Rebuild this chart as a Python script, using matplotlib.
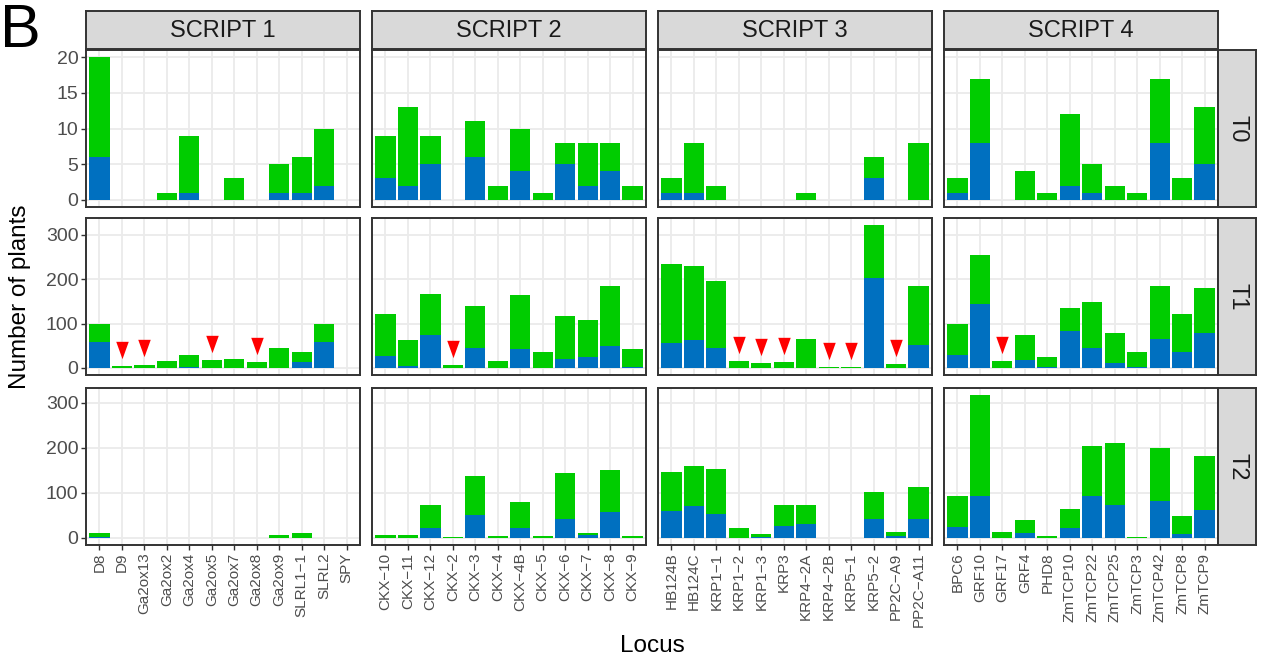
import numpy as np
import matplotlib
matplotlib.use("Agg")
import matplotlib.pyplot as plt

plt.rcParams["font.family"] = ["Liberation Sans", "DejaVu Sans"]

# ---- data ----
scripts = ["SCRIPT 1", "SCRIPT 2", "SCRIPT 3", "SCRIPT 4"]
times = ["T0", "T1", "T2"]

s1_loci = ["D8", "D9", "Ga2ox13", "Ga2ox2", "Ga2ox4", "Ga2ox5", "Ga2ox7",
           "Ga2ox8", "Ga2ox9", "SLRL1−1", "SLRL2", "SPY"]
s2_loci = ["CKX−10", "CKX−11", "CKX−12", "CKX−2", "CKX−3", "CKX−4", "CKX−4B",
           "CKX−5", "CKX−6", "CKX−7", "CKX−8", "CKX−9"]
s3_loci = ["HB124B", "HB124C", "KRP1−1", "KRP1−2", "KRP1−3", "KRP3", "KRP4−2A",
           "KRP4−2B", "KRP5−1", "KRP5−2", "PP2C−A9", "PP2C−A11"]
s4_loci = ["BPC6", "GRF10", "GRF17", "GRF4", "PHD8", "ZmTCP10", "ZmTCP22",
           "ZmTCP25", "ZmTCP3", "ZmTCP42", "ZmTCP8", "ZmTCP9"]

# total plants (green) and the blue subset
s1_t0_total = [20, 0, 0, 1, 9, 0, 3, 0, 5, 6, 10, 0]
s1_t0_blue = [6, 0, 0, 0, 1, 0, 0, 0, 1, 1, 2, 0]
s1_t1_total = [100, 4, 7, 15, 28, 17, 19, 13, 44, 35, 98, 0]
s1_t1_blue = [58, 0, 0, 0, 2, 0, 0, 0, 0, 13, 58, 0]
s1_t2_total = [10, 0, 0, 0, 0, 0, 0, 0, 6, 10, 0, 0]
s1_t2_blue = [2, 0, 0, 0, 0, 0, 0, 0, 0, 0, 0, 0]

s2_t0_total = [9, 13, 9, 0, 11, 2, 10, 1, 8, 8, 8, 2]
s2_t0_blue = [3, 2, 5, 0, 6, 0, 4, 0, 5, 2, 4, 0]
s2_t1_total = [122, 62, 167, 6, 140, 15, 165, 35, 118, 107, 185, 42]
s2_t1_blue = [26, 4, 75, 0, 44, 0, 42, 0, 19, 24, 49, 2]
s2_t2_total = [6, 6, 72, 2, 138, 4, 79, 4, 143, 10, 151, 4]
s2_t2_blue = [0, 0, 21, 0, 50, 0, 21, 0, 43, 6, 57, 0]

s3_t0_total = [3, 8, 2, 0, 0, 0, 1, 0, 0, 6, 0, 8]
s3_t0_blue = [1, 1, 0, 0, 0, 0, 0, 0, 0, 3, 0, 0]
s3_t1_total = [235, 230, 196, 15, 10, 13, 64, 2, 2, 322, 8, 185]
s3_t1_blue = [55, 62, 44, 0, 0, 0, 0, 0, 0, 203, 0, 51]
s3_t2_total = [147, 160, 154, 21, 8, 74, 72, 0, 0, 101, 12, 112]
s3_t2_blue = [59, 70, 52, 0, 2, 26, 30, 0, 0, 41, 4, 41]

s4_t0_total = [3, 17, 0, 4, 1, 12, 5, 2, 1, 17, 3, 13]
s4_t0_blue = [1, 8, 0, 0, 0, 2, 1, 0, 0, 8, 0, 5]
s4_t1_total = [98, 255, 15, 75, 24, 134, 149, 78, 35, 185, 122, 181]
s4_t1_blue = [28, 145, 0, 17, 2, 84, 44, 10, 2, 64, 35, 78]
s4_t2_total = [94, 317, 12, 39, 4, 63, 204, 211, 1, 200, 48, 182]
s4_t2_blue = [24, 92, 0, 10, 0, 21, 92, 74, 0, 81, 8, 61]

# loci flagged with a red arrow in T1
flagged_t1 = ["D9", "Ga2ox13", "Ga2ox5", "Ga2ox8", "CKX−2", "KRP1−2", "KRP1−3",
              "KRP3", "KRP4−2B", "KRP5−1", "PP2C−A9", "GRF17"]

loci = [s1_loci, s2_loci, s3_loci, s4_loci]
totals = [[s1_t0_total, s1_t1_total, s1_t2_total],
          [s2_t0_total, s2_t1_total, s2_t2_total],
          [s3_t0_total, s3_t1_total, s3_t2_total],
          [s4_t0_total, s4_t1_total, s4_t2_total]]
blues = [[s1_t0_blue, s1_t1_blue, s1_t2_blue],
         [s2_t0_blue, s2_t1_blue, s2_t2_blue],
         [s3_t0_blue, s3_t1_blue, s3_t2_blue],
         [s4_t0_blue, s4_t1_blue, s4_t2_blue]]

GREEN = "#00CC00"
BLUE = "#0070C0"
BORDER = "#333333"
GRID = "#EBEBEB"
STRIP = "#D9D9D9"

W, H = 1261, 659
fig = plt.figure(figsize=(W / 100, H / 100), dpi=100)


def px_axes(left, top, width, height, **kw):
    return fig.add_axes([left / W, 1 - (top + height) / H, width / W, height / H], **kw)


def strip_axes(left, top, width, height):
    sa = px_axes(left, top, width, height)
    sa.set_facecolor(STRIP)
    sa.set_xticks([])
    sa.set_yticks([])
    for sp in sa.spines.values():
        sp.set_color(BORDER)
        sp.set_linewidth(1.4)
    return sa


col_left = [86, 372, 658, 944]
col_w = 274
row_top = [50, 218, 388]
row_h = 157

# triangle pointing down, narrower than tall
tri = [(-0.72, 1), (0.72, 1), (0, -1), (-0.72, 1)]

for r, t in enumerate(times):
    row_max = max(max(totals[c][r]) for c in range(4))
    ylim = (-0.05 * row_max, 1.05 * row_max)
    for c in range(4):
        ax = px_axes(col_left[c], row_top[r], col_w, row_h)
        x = np.arange(len(loci[c]))
        tot = np.array(totals[c][r])
        blu = np.array(blues[c][r])
        ax.bar(x, tot, width=0.9, color=GREEN, zorder=2)
        ax.bar(x, blu, width=0.9, color=BLUE, zorder=3)

        if t == "T1":
            for i, name in enumerate(loci[c]):
                if name in flagged_t1:
                    ax.plot(i, tot[i] + 0.115 * row_max, marker=tri, ms=12.5,
                            color="#FF0000", mec="none", zorder=4)

        ax.set_xlim(-0.6, len(x) - 0.4)
        ax.set_ylim(*ylim)
        ax.set_xticks(x)
        if t == "T0":
            ax.set_yticks([0, 5, 10, 15, 20])
        else:
            ax.set_yticks([0, 100, 200, 300])
        ax.grid(True, color=GRID, lw=1.3, zorder=0)
        ax.set_axisbelow(True)
        for sp in ax.spines.values():
            sp.set_color(BORDER)
            sp.set_linewidth(1.4)
        ax.tick_params(colors=BORDER, labelcolor="#4D4D4D", length=3.5,
                       width=1.0, pad=2)
        ax.tick_params(axis="y", labelsize=14)
        ax.tick_params(axis="x", labelsize=11)

        if c == 0:
            ax.tick_params(axis="y", left=True, labelleft=True)
        else:
            ax.tick_params(axis="y", left=False, labelleft=False)
        if r == 2:
            ax.set_xticklabels(loci[c], rotation=90, ha="center", va="top")
        else:
            ax.tick_params(axis="x", bottom=False, labelbottom=False)

        # top strips
        if r == 0:
            sa = strip_axes(col_left[c], 11, col_w, 38)
            sa.text(0.5, 0.48, scripts[c], ha="center", va="center",
                    fontsize=17, color="#1A1A1A", transform=sa.transAxes)

    # right strip
    ra = strip_axes(1218, row_top[r], 38, row_h)
    ra.text(0.5, 0.5, t, ha="center", va="center", rotation=-90,
            fontsize=17, color="#1A1A1A", transform=ra.transAxes)

fig.text(20 / W, 1 - 297 / H, "Number of plants", rotation=90,
         ha="center", va="center", fontsize=17.5)
fig.text(652 / W, 1 - 646 / H, "Locus", ha="center", va="center", fontsize=17.5)
fig.text(0, 1 - 3 / H, "B", ha="left", va="top", fontsize=44)

fig.savefig("out.png", dpi=100)
